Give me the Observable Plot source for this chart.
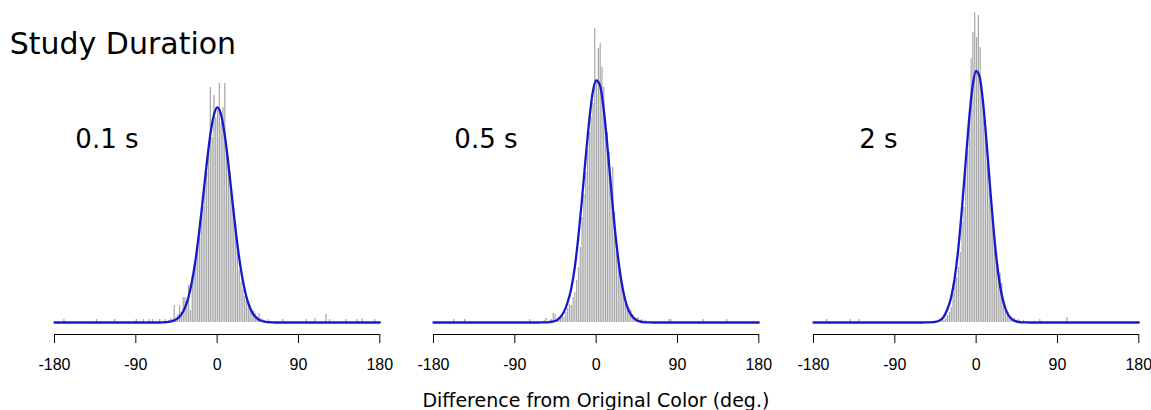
<!DOCTYPE html>
<html>
<head>
<meta charset="utf-8">
<script src="https://cdn.jsdelivr.net/npm/d3@7"></script>
<script src="https://cdn.jsdelivr.net/npm/@observablehq/plot@0.6"></script>
<style>
html,body{margin:0;padding:0;background:#fff;overflow:hidden}
#root{position:relative;width:1151px;height:410px;overflow:hidden;background:#fff}
#title{position:absolute;left:9.7px;top:28.9px;font:30px/30px "DejaVu Sans",sans-serif;color:#000;white-space:nowrap}
#xlabel{position:absolute;left:595.9px;top:391.2px;transform:translateX(-50%);font:19px/19px "DejaVu Sans",sans-serif;color:#000;white-space:nowrap}
.panel{position:absolute;top:0}
</style>
</head>
<body>
<div id="root">
  <div id="title"></div>
  <div id="xlabel"></div>
</div>
<script>
// ---- text ----
const titleText = "Study Duration";
const xLabelText = "Difference from Original Color (deg.)";
const panelLabels = ["0.1 s", "0.5 s", "2 s"];
const labelX = -87;      // degrees (right end of label)
const labelY = 175;      // counts (baseline of label)

// ---- axis ----
const xDomain = [-180, 180];
const xTicks = [-180, -90, 0, 90, 180];
const xTickLabels = ["-180", "-90", "0", "90", "180"];

// ---- histogram: 2° bins, core range starts at -60 ----
const binWidth = 2;
const coreStart = -60;
const counts01 = [0,3,0,2,4,3,17,5,8,17, 10,25,25,20,37,12,45,55,60,75,
                  85,105,115,135,150,170,235,185,227,205, 212,239,200,215,239,175,165,150,128,110,
                  98,78,52,40,33,26,22,18,17,12, 11,9,6,9,4,3,2,0,3,0];
const counts05 = [0,2,4,0,2,3,9,8,3,5, 4,7,5,10,14,18,17,25,30,42,
                  55,75,105,128,150,172,190,205,219,294, 240,274,279,255,235,200,190,170,140,155,
                  110,85,65,50,38,28,20,14,9,12, 8,5,4,5,2,3,0,2,0,0];
const counts2  = [0,0,0,0,0,0,0,0,0,2, 0,3,2,4,7,10,15,29,42,45,
                  55,70,100,115,150,172,205,264,290,310, 285,307,275,232,212,195,160,150,125,105,
                  89,70,55,49,39,22,15,8,5,4, 3,4,2,3,2,0,2,0,0,0];
// sparse tail bins: [bin start, count]
const tail01 = [[-170,3],[-134,3],[-114,3],[-90,3],[-82,3],[-76,3],[-72,3],[-64,3],
                [72,3],[98,3],[108,4],[120,8],[124,3],[142,3],[154,3],[160,4],[174,3]];
const tail05 = [[-158,3],[-146,3],[-74,3],[80,3],[82,3],[118,3],[144,3]];
const tail2  = [[-166,3],[-140,3],[-130,3],[70,3],[100,5]];

// ---- fitted curves ----
const curveX  = [-180,-64,-60,-56,-52,-48,-44,-40,-36,-32,-28,-24,-20,-16,-12,-8,-4,0,4,8,12,16,20,24,28,32,36,40,44,48,52,56,60,64,180];
const curve01 = [0,0,0.2,0.4,0.9,1.9,3.9,7.6,14,24.5,40.5,62,90,122,155,185,206,215,209,190,162,129,96,67,44,27,15.5,8.2,4.2,2,0.9,0.4,0.2,0,0];
const curve05 = [0,0,0.05,0.15,0.4,0.9,2,5,10,19,32,53,83,120,161,199,229,242,238,216,181,140,100,67,41,23,12,6,2.7,1.1,0.4,0.15,0.05,0,0];
const curve2  = [0,0,0,0.05,0.1,0.3,0.8,2.2,5.5,13,24,43,71.5,111,156,201,236,251.5,245,217,175,129,86,52.5,29,15,7,3,1.1,0.4,0.13,0.04,0,0,0];

const panels = [
  {label: panelLabels[0], counts: counts01, tail: tail01, curve: curve01},
  {label: panelLabels[1], counts: counts05, tail: tail05, curve: curve05},
  {label: panelLabels[2], counts: counts2,  tail: tail2,  curve: curve2}
];

const barColor = "#a6a6a6";
const curveColor = "#1919cc";
const lefts = [26.7, 406.3, 785.7];

document.getElementById("title").textContent = titleText;
document.getElementById("xlabel").textContent = xLabelText;

const root = document.getElementById("root");
const tickRows = xTicks.map((x, k) => ({x, label: xTickLabels[k]}));

panels.forEach((p, i) => {
  const bars = p.counts.map((n, k) => ({x1: coreStart + k * binWidth, x2: coreStart + (k + 1) * binWidth, n}))
    .concat(p.tail.map(([s, n]) => ({x1: s, x2: s + binWidth, n})))
    .filter(d => d.n > 0);
  const pts = curveX.map((x, k) => ({x, y: p.curve[k]}));
  const svg = Plot.plot({
    width: 365,
    height: 380,
    marginLeft: 27,
    marginRight: 12.7,
    marginTop: 10,
    marginBottom: 46,
    x: {domain: xDomain, label: null},
    y: {domain: [0, 312], insetBottom: 12, axis: null},
    style: {background: "transparent", overflow: "visible", color: "#000"},
    marks: [
      Plot.rect(bars, {x1: "x1", x2: "x2", y1: 0, y2: "n", fill: barColor, insetLeft: 0.3, insetRight: 0.3}),
      Plot.line(pts, {x: "x", y: "y", stroke: curveColor, strokeWidth: 2.3, curve: "monotone-x"}),
      Plot.ruleY([0], {x1: xDomain[0], x2: xDomain[1], dy: 12, stroke: "#000", strokeWidth: 1.1}),
      Plot.axisX({ticks: xTicks, tickSize: 9, tickFormat: () => "", label: null, stroke: "#000"}),
      Plot.text(tickRows, {x: "x", text: "label", frameAnchor: "bottom", lineAnchor: "top", dy: 23.9, fontSize: 16, fontFamily: "Liberation Sans, Arial, sans-serif", fill: "#000"}),
      Plot.text([p.label], {x: labelX, y: labelY, text: d => d, textAnchor: "end", lineAnchor: "bottom", fontSize: 26, fontFamily: "DejaVu Sans", fill: "#000"})
    ]
  });
  svg.classList.add("panel");
  svg.style.left = lefts[i] + "px";
  svg.style.maxWidth = "none";
  root.appendChild(svg);
});
</script>
</body>
</html>
